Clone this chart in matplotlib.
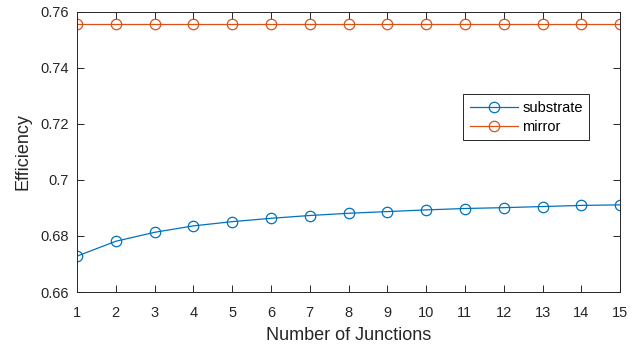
import numpy as np
import matplotlib.pyplot as plt
from matplotlib.ticker import FuncFormatter

junctions = list(range(1, 16))
substrate = [0.6728, 0.6781, 0.6813, 0.6836, 0.6851, 0.6863, 0.6873, 0.6881,
             0.6887, 0.6893, 0.6898, 0.6901, 0.6905, 0.6909, 0.6911]
mirror = [0.7555] * 15

plt.rcParams['font.family'] = ['Liberation Sans', 'DejaVu Sans']

fig = plt.figure(figsize=(6.36, 3.47), dpi=100)
ax = fig.add_axes([0.121, 0.1585, 0.854, 0.8075])

ax.plot(junctions, substrate, '-o', color='#0072BD', mfc='none', ms=7.5,
        lw=0.9, mew=0.9, label='substrate')
ax.plot(junctions, mirror, '-o', color='#D95319', mfc='none', ms=7.5,
        lw=0.9, mew=0.9, label='mirror')

ax.set_xlim(1, 15)
ax.set_ylim(0.66, 0.76)
ax.set_xticks(junctions)
ax.set_yticks(np.arange(0.66, 0.761, 0.02))
ax.yaxis.set_major_formatter(FuncFormatter(lambda v, p: f'{v:g}'))

axcol = '#262626'
for s in ax.spines.values():
    s.set_color(axcol)
    s.set_linewidth(0.7)
ax.tick_params(direction='in', length=5, width=0.7, colors=axcol,
               labelsize=10.5, top=True, right=True, pad=6)
ax.tick_params(axis='x', pad=10)

ax.set_xlabel('Number of Junctions', fontsize=13, color=axcol, labelpad=5)
ax.set_ylabel('Efficiency', fontsize=13, color=axcol, labelpad=6)

leg = ax.legend(loc='upper left', bbox_to_anchor=(0.711, 0.706), fontsize=10.5,
                fancybox=False, framealpha=1, edgecolor=axcol,
                handlelength=3.3, borderpad=0.45, labelspacing=0.35,
                handletextpad=0.3, borderaxespad=0)
leg.get_frame().set_linewidth(0.7)

fig.savefig('out.png', dpi=100)
